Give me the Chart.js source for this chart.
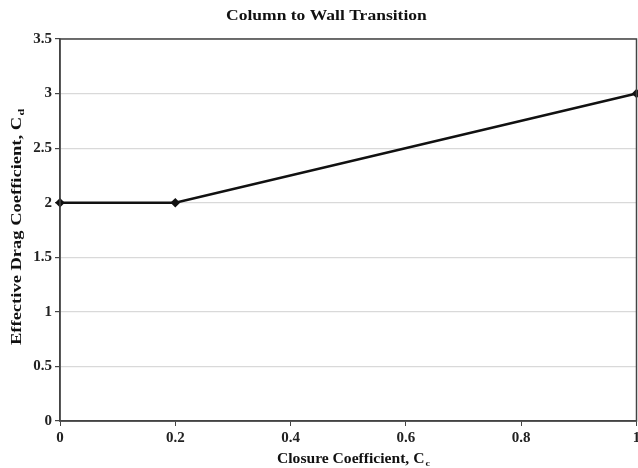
<!DOCTYPE html>
<html>
<head>
<meta charset="utf-8">
<script src="https://cdn.jsdelivr.net/npm/chart.js@4"></script>
<style>
  body { margin: 0; background: #fff; }
  #wrap { width: 638px; height: 468px; }
</style>
</head>
<body>
<div id="wrap"><canvas id="dragChart" width="638" height="468"></canvas></div>
<script>
const closure = [0, 0.2, 1];
const dragCoef = [2, 2, 3];
const xTicks = [0, 0.2, 0.4, 0.6, 0.8, 1];
const yTicks = [0, 0.5, 1, 1.5, 2, 2.5, 3, 3.5];

const serif = '"Liberation Serif", "Times New Roman", serif';

// draw text + subscript, stretched to a given total width, starting at x
function stretchedText(c, main, sub, x, y, size, target) {
    c.font = 'bold ' + size + 'px ' + serif;
    const wm = c.measureText(main).width;
    c.font = 'bold ' + Math.round(size * 0.65) + 'px ' + serif;
    const ws = sub ? c.measureText(sub).width : 0;
    const k = target / (wm + ws + 1);
    c.save();
    c.translate(x, y);
    c.scale(k, 1);
    c.textAlign = 'left';
    c.font = 'bold ' + size + 'px ' + serif;
    c.fillText(main, 0, 0);
    if (sub) {
        c.font = 'bold ' + Math.round(size * 0.65) + 'px ' + serif;
        c.fillText(sub, wm + 1, 3);
    }
    c.restore();
}

// title, axis titles (with subscripts) and the plot frame
const labelsPlugin = {
    id: 'labels',
    afterDraw(chart) {
        const c = chart.ctx;
        const a = chart.chartArea;
        c.save();
        c.strokeStyle = '#444';
        c.lineWidth = 1.5;
        c.strokeRect(a.left, a.top, a.right - a.left, a.bottom - a.top);

        c.fillStyle = '#111';
        c.textBaseline = 'alphabetic';
        stretchedText(c, 'Column to Wall Transition', '', 226, 20, 15, 202);
        stretchedText(c, 'Closure Coefficient, C', 'c', 277, 463, 14, 153);

        c.translate(21, 345);
        c.rotate(-Math.PI / 2);
        stretchedText(c, 'Effective Drag Coefficient, C', 'd', 0, 0, 14, 236);
        c.restore();
    }
};

const ctx = document.getElementById('dragChart').getContext('2d');
const dragChart = new Chart(ctx, {
    type: 'line',
    data: {
        datasets: [{
            data: closure.map((x, i) => ({ x: x, y: dragCoef[i] })),
            borderColor: '#111',
            backgroundColor: '#111',
            borderWidth: 2.5,
            pointRadius: 3,
            pointStyle: 'rectRot',
            pointHoverRadius: 3,
            tension: 0,
            clip: false,
        }]
    },
    options: {
        responsive: false,
        animation: false,
        layout: { autoPadding: false, padding: { top: 39, right: 1.5, left: 0, bottom: 0 } },
        plugins: {
            legend: { display: false },
            tooltip: { enabled: false },
            title: { display: false },
        },
        scales: {
            x: {
                type: 'linear',
                min: 0,
                max: 1,
                afterBuildTicks: s => { s.ticks = xTicks.map(v => ({ value: v })); },
                afterFit: s => { s.height = 47; s.paddingLeft = 0; s.paddingRight = 0; },
                grid: { drawOnChartArea: false, tickLength: 5, tickColor: '#444' },
                border: { color: '#444', width: 1.5 },
                ticks: {
                    color: '#222',
                    padding: 3,
                    maxRotation: 0,
                    font: { family: serif, size: 15, weight: 'bold' },
                    callback: v => String(v),
                },
            },
            y: {
                min: 0,
                max: 3.5,
                afterBuildTicks: s => { s.ticks = yTicks.map(v => ({ value: v })); },
                afterFit: s => { s.width = 60; s.paddingTop = 0; s.paddingBottom = 0; },
                grid: { color: '#d9d9d9', lineWidth: 1.2, tickLength: 5, tickColor: '#444' },
                border: { color: '#444', width: 1.5 },
                ticks: {
                    color: '#222',
                    padding: 3,
                    font: { family: serif, size: 15, weight: 'bold' },
                    callback: v => String(v),
                },
            }
        }
    },
    plugins: [labelsPlugin]
});
</script>
</body>
</html>
